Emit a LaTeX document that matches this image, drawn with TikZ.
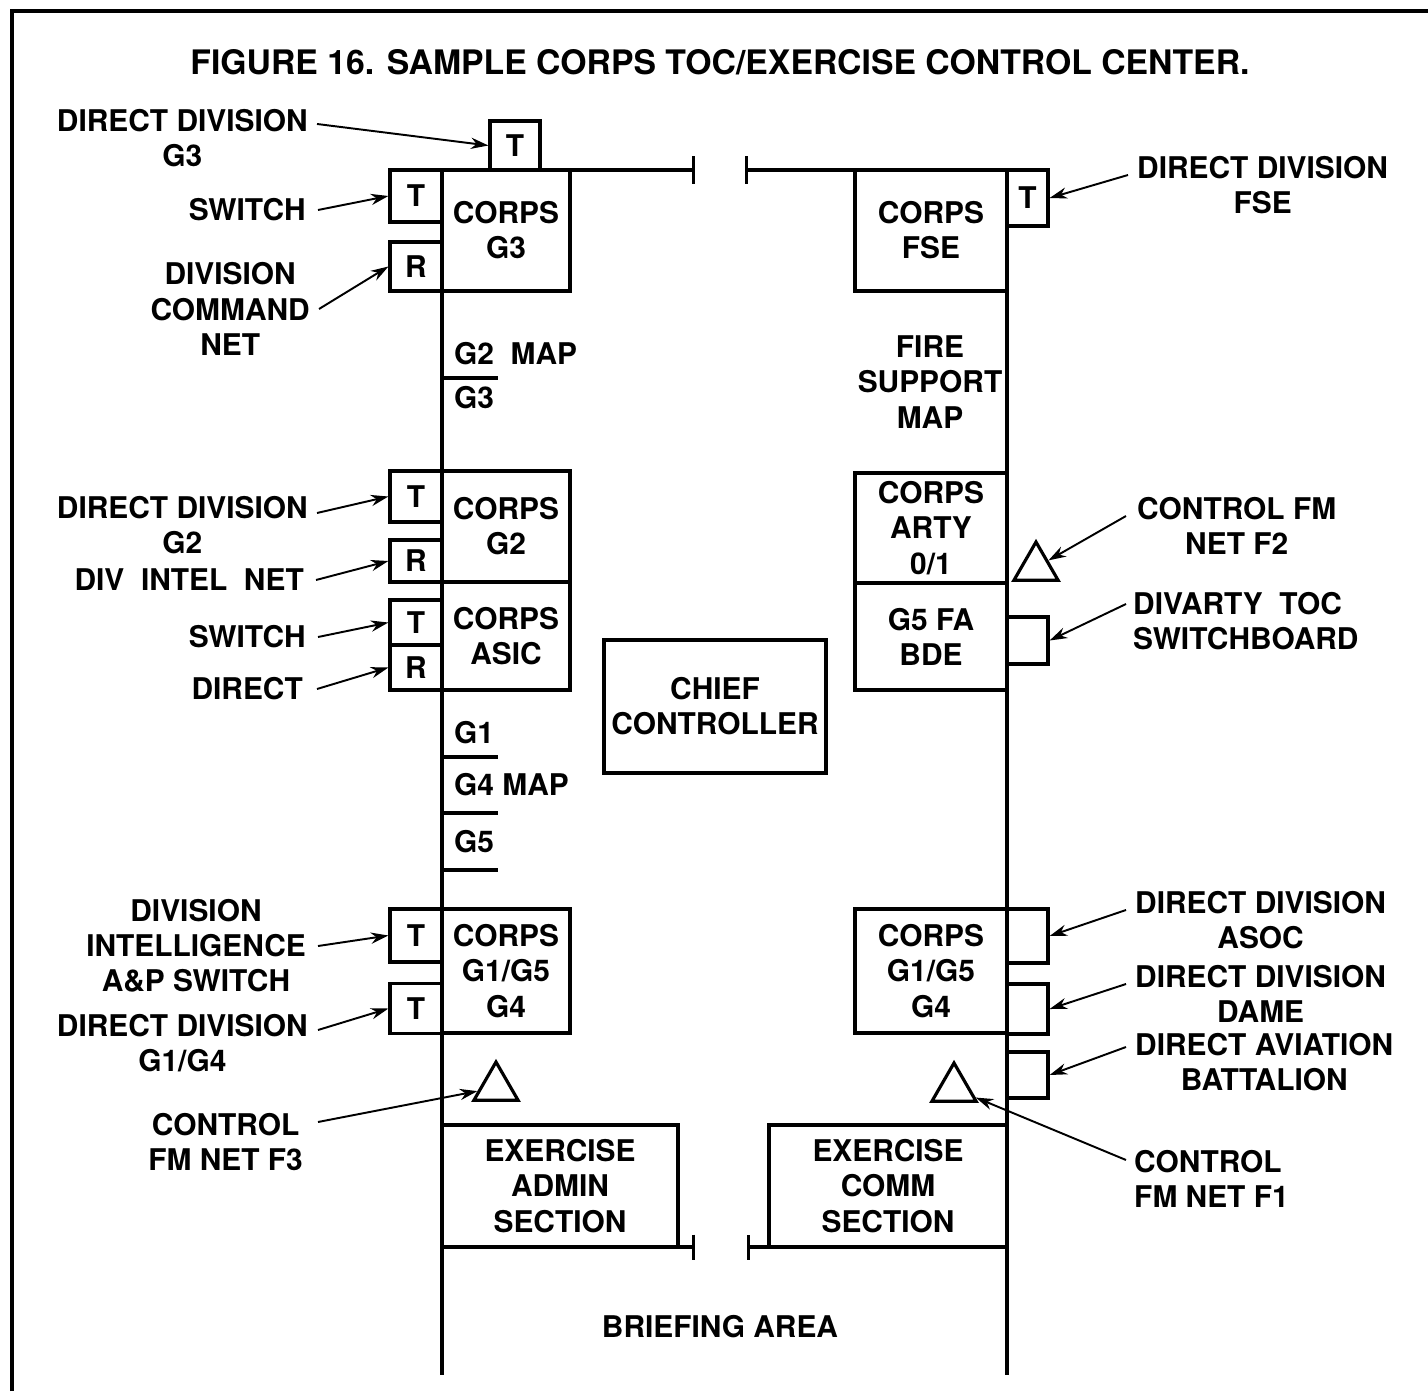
\documentclass[tikz,border=0pt]{standalone}
\usepackage{fontspec}
\setmainfont{TeX Gyre Heros}
\usepackage{tikz}
\usetikzlibrary{arrows.meta,shapes.geometric,positioning}

\newcommand{\plainlbl}{\fontsize{8.5}{10}\selectfont\bfseries}

\begin{document}
\begin{tikzpicture}[
      x=0.01cm,y=-0.01cm,
      room/.style={draw,line width=0.9pt,inner sep=0pt,minimum width=1.28cm,align=center,font=\plainlbl},
      tbox/.style={draw,line width=0.9pt,inner sep=0pt,minimum width=5.2mm,font=\plainlbl},
      net/.style={draw,line width=0.9pt,regular polygon,regular polygon sides=3,minimum size=5.1mm,inner sep=0pt},
      lcall/.style={inner sep=1pt,align=center,anchor=east,font=\plainlbl},
      rcall/.style={inner sep=1pt,align=center,anchor=west,font=\plainlbl},
      txt/.style={inner sep=1pt,align=center,font=\plainlbl},
      pointer/.style={-{Stealth[length=5pt,width=3.2pt]},line width=0.55pt},
      wall/.style={line width=0.9pt}
    ]
    \useasboundingbox (0,0) rectangle (1428,1391);
    % frame and title
    \draw[line width=1.1pt] (12,1391) -- (12,11) -- (1428,11);
    \node[font=\fontsize{9.6}{12}\selectfont\bfseries] (title) at (720,62) {FIGURE 16. SAMPLE CORPS TOC/EXERCISE CONTROL CENTER.};

    % walls
    \draw[wall] (442,170) -- (442,1375);
    \draw[wall] (1007,170) -- (1007,1375);
    \draw[wall,-{Bar[width=2.7mm]}] (442,170) -- (695,170);
    \draw[wall,{Bar[width=2.7mm]}-] (745,170) -- (1007,170);
    \draw[wall,-{Bar[width=2.5mm]}] (442,1247) -- (695,1247);
    \draw[wall,{Bar[width=2.5mm]}-] (747,1247) -- (1007,1247);

    % left side
    \node[room,minimum height=1.21cm] (cg3) at (506,230.5) {CORPS\\G3};
    \node[tbox,minimum height=5.2mm] (tsw) at (416,196) {T};
    \node[tbox,minimum height=4.9mm] (rcmd) at (416,266.5) {R};
    \node[tbox,minimum width=5mm,minimum height=4.9mm] (tg3) at (515,145.5) {T};

    \node[txt,anchor=west] (g2map) at (450,354) {G2\ \ MAP};
    \node[txt,anchor=west] (g3map) at (450,398) {G3};
    \draw[wall] (442,378) -- (498,378);

    \node[room,minimum height=1.11cm] (cg2) at (506,526.5) {CORPS\\G2};
    \node[tbox,minimum height=5.1mm] (tg2) at (416,496.5) {T};
    \node[tbox,minimum height=4.2mm] (rintel) at (416,561) {R};
    \node[room,minimum height=1.08cm] (casic) at (506,636) {CORPS\\ASIC};
    \node[tbox,minimum height=4.5mm] (tasic) at (416,622.5) {T};
    \node[tbox,minimum height=4.5mm] (rasic) at (416,667.5) {R};

    \node[txt,anchor=west] (g1) at (450,733) {G1};
    \node[txt,anchor=west] (g4map) at (450,785) {G4 MAP};
    \node[txt,anchor=west] (g5) at (450,842) {G5};
    \foreach \y in {757,813,870}
      \draw[wall] (442,\y) -- (498,\y);

    \node[room,minimum height=1.24cm] (cg145) at (506,971) {CORPS\\G1/G5\\G4};
    \node[tbox,minimum height=5.3mm] (tdia) at (416,935.5) {T};
    \node[tbox,minimum height=5mm] (tg14) at (416,1008.5) {T};
    \node[net] (f3) at (496,1087.5) {};
    \node[room,minimum width=2.36cm,minimum height=1.22cm] (admin) at (560,1186) {EXERCISE\\ADMIN\\SECTION};

    % centre
    \node[room,minimum width=2.22cm,minimum height=1.33cm] (chief) at (715,706.5) {CHIEF\\CONTROLLER};
    \node[txt] (brief) at (720,1327) {BRIEFING AREA};

    % right side
    \node[room,minimum width=1.52cm,minimum height=1.21cm] (cfse) at (931,230.5) {CORPS\\FSE};
    \node[tbox,minimum width=4.1mm,minimum height=5.6mm] (tfse) at (1027.5,198) {T};
    \node[txt] (fsmap) at (930,382) {FIRE\\SUPPORT\\MAP};
    \node[room,minimum width=1.52cm,minimum height=1.1cm] (arty) at (931,528) {CORPS\\ARTY\\0/1};
    \node[room,minimum width=1.52cm,minimum height=1.07cm] (fabde) at (931,636.5) {G5 FA\\BDE};
    \node[net] (f2) at (1036,567.5) {};
    \node[tbox,minimum width=4.1mm,minimum height=4.7mm] (sqdiv) at (1027.5,640.5) {};

    \node[room,minimum width=1.52cm,minimum height=1.24cm] (rg145) at (931,971) {CORPS\\G1/G5\\G4};
    \node[tbox,minimum width=4.1mm,minimum height=5.4mm] (sqasoc) at (1027.5,936) {};
    \node[tbox,minimum width=4.1mm,minimum height=5mm] (sqdame) at (1027.5,1009) {};
    \node[tbox,minimum width=4.1mm,minimum height=4.6mm] (sqav) at (1027.5,1075) {};
    \node[net] (f1) at (954,1088.5) {};
    \node[room,minimum width=2.38cm,minimum height=1.22cm] (comm) at (888,1186) {EXERCISE\\COMM\\SECTION};

    % left call-outs
    \node[lcall] (ddg3) at (312,138) {DIRECT DIVISION\\G3};
    \node[lcall] (sw1) at (310,210) {SWITCH};
    \node[lcall] (dcn) at (314,309) {DIVISION\\COMMAND\\NET};
    \node[lcall] (ddg2) at (312,525) {DIRECT DIVISION\\G2};
    \node[lcall] (din) at (308,580) {DIV\ \ INTEL\ \ NET};
    \node[lcall] (sw2) at (310,637) {SWITCH};
    \node[lcall] (dir) at (307,689) {DIRECT};
    \node[lcall] (dia) at (310,946) {DIVISION\\INTELLIGENCE\\A\&P SWITCH};
    \node[lcall] (ddg14) at (312,1043) {DIRECT DIVISION\\G1/G4};
    \node[lcall] (cf3) at (307,1142) {CONTROL\\FM NET F3};

    \draw[pointer] ([xshift=0.5mm,yshift=1.4mm]ddg3.east) -- (tg3.west);
    \draw[pointer] ([xshift=0.8mm]sw1.east) -- (tsw.west);
    \draw[pointer] ([xshift=0.5mm]dcn.east) -- (rcmd.west);
    \draw[pointer] ([xshift=0.5mm,yshift=1.2mm]ddg2.east) -- (tg2.west);
    \draw[pointer] ([xshift=0.8mm]din.east) -- (rintel.west);
    \draw[pointer] ([xshift=0.8mm]sw2.east) -- (tasic.west);
    \draw[pointer] ([xshift=1mm]dir.east) -- (rasic.west);
    \draw[pointer] ([xshift=0.8mm]dia.east) -- (tdia.west);
    \draw[pointer] ([xshift=0.6mm,yshift=1.3mm]ddg14.east) -- (tg14.west);
    \draw[pointer] ([xshift=1.1mm,yshift=2mm]cf3.east) -- (f3);

    % right call-outs
    \node[rcall] (ddfse) at (1133,185) {DIRECT DIVISION\\FSE};
    \node[rcall] (cf2) at (1133,526) {CONTROL FM\\NET F2};
    \node[rcall,align=left] (dts) at (1129,621) {DIVARTY\ \ TOC\\SWITCHBOARD};
    \node[rcall] (ddasoc) at (1131,920) {DIRECT DIVISION\\ASOC};
    \node[rcall] (dddame) at (1131,994) {DIRECT DIVISION\\DAME};
    \node[rcall] (dab) at (1131,1062) {DIRECT AVIATION\\BATTALION};
    \node[rcall,align=left] (cf1) at (1130,1179) {CONTROL\\FM NET F1};

    \draw[pointer] ([xshift=-0.5mm,yshift=1mm]ddfse.west) -- (tfse.east);
    \draw[pointer] ([xshift=-0.7mm,yshift=1mm]cf2.west) -- (f2);
    \draw[pointer] ([xshift=-0.3mm,yshift=1.7mm]dts.west) -- (sqdiv.east);
    \draw[pointer] ([xshift=-0.5mm,yshift=1mm]ddasoc.west) -- (sqasoc.east);
    \draw[pointer] ([xshift=-0.5mm,yshift=1mm]dddame.west) -- (sqdame.east);
    \draw[pointer] ([xshift=-0.5mm,yshift=1.5mm]dab.west) -- (sqav.east);
    \draw[pointer] ([xshift=-0.4mm,yshift=1.9mm]cf1.west) -- (f1);
\end{tikzpicture}
\end{document}
